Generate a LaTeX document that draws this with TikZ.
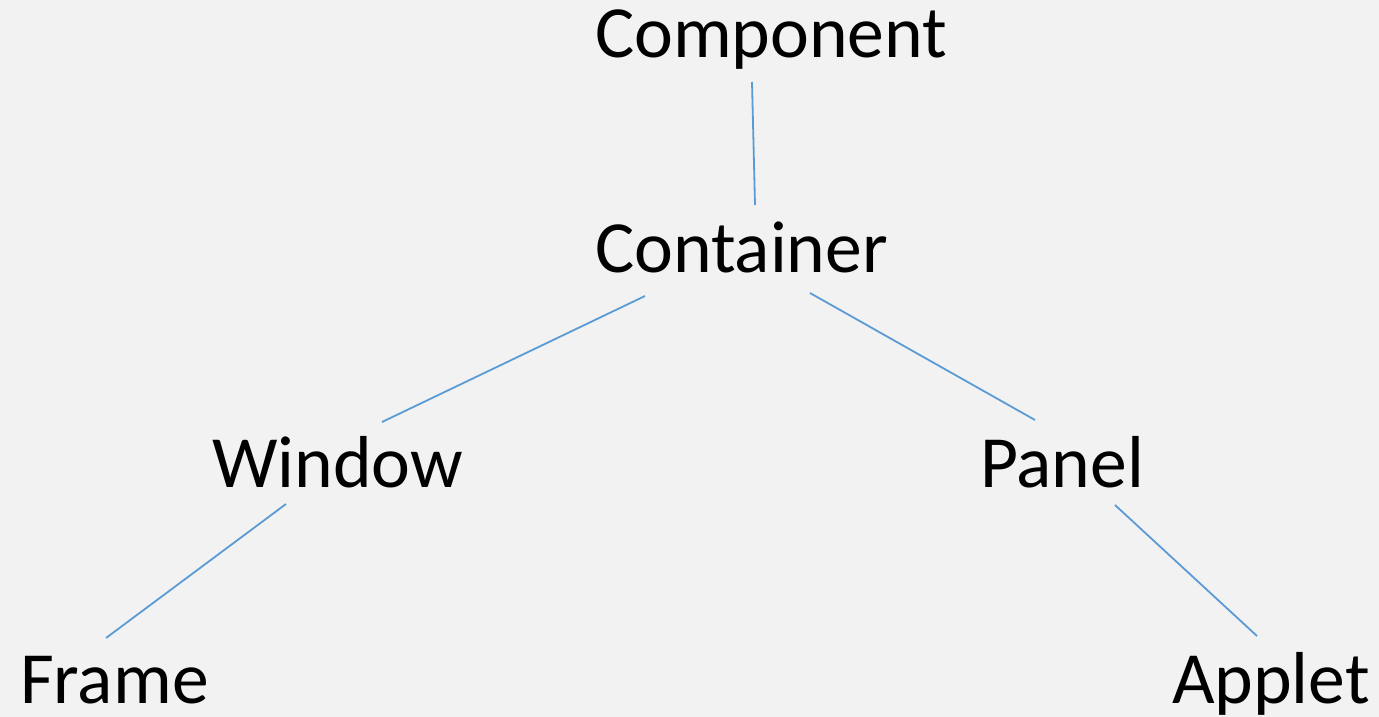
\documentclass[tikz,border=0pt]{standalone}
\usepackage{fontspec}
\setmainfont{Carlito}
\definecolor{bgc}{HTML}{F2F2F2}
\definecolor{linec}{HTML}{5B9BD5}
\tikzset{
  lbl/.style={anchor=base west, inner sep=0pt, outer sep=0pt, font=\fontsize{73.6}{80}\selectfont, text=black},
  conn/.style={draw=linec, line width=1.8pt}
}
\begin{document}
\begin{tikzpicture}[x=1pt,y=-1pt]
\fill[bgc] (0,0) rectangle (1379,717);
\useasboundingbox (0,0) rectangle (1379,717);
\node[lbl] (component) at (595,58) {Component};
\node[lbl] (container) at (595,272) {Container};
\node[lbl] (window) at (212,487) {Window};
\node[lbl] (panel) at (980,487) {Panel};
\node[lbl] (frame) at (20,703) {Frame};
\node[lbl] (applet) at (1172,703) {Applet};
\coordinate (a1) at (752,82);
\coordinate (a2) at (755,205);
\coordinate (b1) at (645,296);
\coordinate (b2) at (382,422);
\coordinate (c1) at (810,293);
\coordinate (c2) at (1035,420);
\coordinate (d1) at (286,504);
\coordinate (d2) at (106,638);
\coordinate (e1) at (1115,505);
\coordinate (e2) at (1257,636);
\draw[conn] (a1) -- (a2);
\draw[conn] (b1) -- (b2);
\draw[conn] (c1) -- (c2);
\draw[conn] (d1) -- (d2);
\draw[conn] (e1) -- (e2);
\end{tikzpicture}
\end{document}
